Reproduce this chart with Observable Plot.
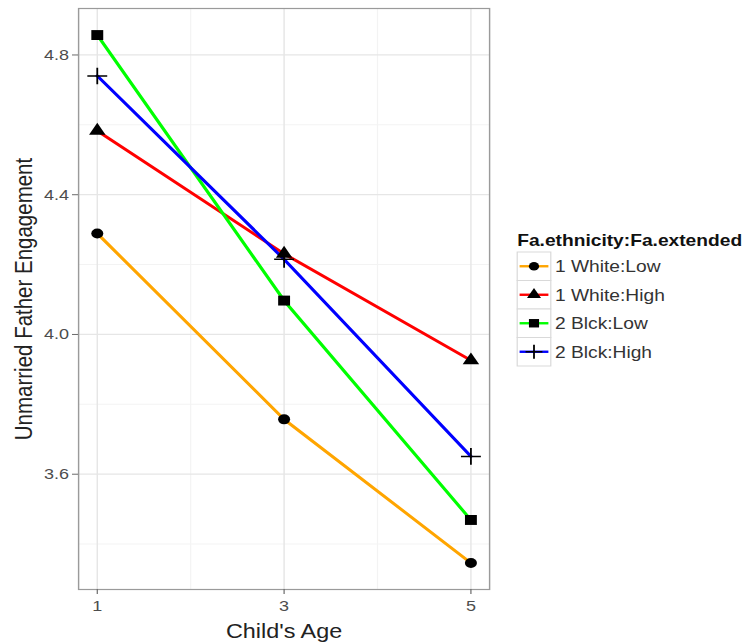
<!DOCTYPE html>
<html>
<head>
<meta charset="utf-8">
<script src="https://cdn.jsdelivr.net/npm/d3@7"></script>
<script src="https://cdn.jsdelivr.net/npm/@observablehq/plot@0.6"></script>
<style>
  body { margin: 0; background: #fff; }
  #wrap { position: relative; width: 625px; height: 642px; transform: scaleX(1.2); transform-origin: 0 0; font-family: "Liberation Sans", Arial, sans-serif; }
  #legend { position: absolute; left: 0; top: 0; }
</style>
</head>
<body>
<div id="wrap"></div>
<script>
// ---- data ----
const ages = [1, 3, 5];
const series = ["1 White:Low", "1 White:High", "2 Blck:Low", "2 Blck:High"];
const whiteLow = [4.289, 3.757, 3.346];
const whiteHigh = [4.583, 4.231, 3.926];
const blckLow = [4.857, 4.097, 3.469];
const blckHigh = [4.740, 4.215, 3.651];
const yTicks = [3.6, 4.0, 4.4, 4.8];
const yMinor = [3.4, 3.8, 4.2, 4.6];
const xMinor = [2, 4];
const colors = ["#FFA500", "#FF0000", "#00FF00", "#0000FF"];
const symbols = ["circle", "triangle", "square", "plus"];
const legendTitle = "Fa.ethnicity:Fa.extended";

const values = [whiteLow, whiteHigh, blckLow, blckHigh];
const rows = [];
series.forEach((s, i) => ages.forEach((a, j) => rows.push({series: s, age: a, value: values[i][j]})));

const symR = {circle: 5, triangle: 5.1, square: 5.6, plus: 5.4};

const dotMarks = series.map((s, i) => {
  const sym = symbols[i];
  const isStroke = sym === "plus";
  return Plot.dot(rows.filter(d => d.series === s), {
    x: "age", y: "value", symbol: () => sym, r: symR[sym],
    fill: isStroke ? "none" : "black",
    stroke: isStroke ? "black" : "none",
    strokeWidth: isStroke ? 1.5 : 0
  });
});

const chart = Plot.plot({
  width: 625, height: 642,
  marginLeft: 65, marginRight: 217.5, marginTop: 8, marginBottom: 53,
  style: {fontFamily: "'Liberation Sans', Arial, sans-serif", background: "#fff"},
  x: {domain: [0.8, 5.2]},
  y: {domain: [3.27, 4.933]},
  color: {domain: series, range: colors},
  symbol: {domain: series, range: symbols},
  marks: [
    Plot.gridX(xMinor, {stroke: "#f3f3f3", strokeOpacity: 1, strokeWidth: 1}),
    Plot.gridY(yMinor, {stroke: "#f3f3f3", strokeOpacity: 1, strokeWidth: 1}),
    Plot.gridX(ages, {stroke: "#e6e6e6", strokeOpacity: 1, strokeWidth: 1.2}),
    Plot.gridY(yTicks, {stroke: "#e6e6e6", strokeOpacity: 1, strokeWidth: 1.2}),
    Plot.line(rows, {x: "age", y: "value", z: "series", stroke: "series", strokeWidth: 2.8}),
    ...dotMarks,
    Plot.frame({stroke: "#9a9a9a", strokeWidth: 1.2}),
    Plot.axisX(ages, {tickSize: 5, tickPadding: 6, fontSize: 15, color: "#4d4d4d", stroke: "#6a6a6a",
      label: "Child's Age", labelAnchor: "center", labelArrow: "none", labelOffset: 48}),
    Plot.axisY(yTicks, {tickSize: 5, tickPadding: 3, fontSize: 15, color: "#4d4d4d", stroke: "#6a6a6a",
      tickFormat: d => d.toFixed(1),
      label: "Unmarried Father Engagement", labelAnchor: "center", labelArrow: "none", labelOffset: 53})
  ]
});
document.getElementById("wrap").appendChild(chart);

// style axis labels
d3.select(chart).selectAll("[aria-label='x-axis label'] text")
  .style("font-size", "19.5px").style("fill", "#222");
d3.select(chart).selectAll("[aria-label='y-axis label'] text")
  .style("font-size", "20.5px").style("fill", "#222");

// ---- legend ----
const lg = d3.select("#wrap").append("svg").attr("id", "legend")
  .attr("width", 625).attr("height", 642)
  .style("font-family", "'Liberation Sans', Arial, sans-serif");
const lx = 431, ly0 = 252, rowH = 28.5, keyW = 28;
lg.append("text").attr("x", lx).attr("y", 246.5).attr("font-weight", "bold").attr("font-size", 16)
  .attr("fill", "#111").text(legendTitle);
series.forEach((s, i) => {
  const y = ly0 + i * rowH;
  const g = lg.append("g");
  g.append("rect").attr("x", lx).attr("y", y).attr("width", keyW).attr("height", rowH)
    .attr("fill", "#fff").attr("stroke", "#d9d9d9").attr("stroke-width", 1);
  g.append("line").attr("x1", lx + 2).attr("x2", lx + keyW - 2).attr("y1", y + rowH / 2).attr("y2", y + rowH / 2)
    .attr("stroke", colors[i]).attr("stroke-width", 2.4);
  const sym = symbols[i];
  const d3sym = {circle: d3.symbolCircle, triangle: d3.symbolTriangle, square: d3.symbolSquare, plus: d3.symbolPlus}[sym];
  const r = symR[sym] * 0.85;
  g.append("path").attr("transform", `translate(${lx + keyW / 2},${y + rowH / 2})`)
    .attr("d", d3.symbol(d3sym, Math.PI * r * r)())
    .attr("fill", sym === "plus" ? "none" : "black")
    .attr("stroke", sym === "plus" ? "black" : "none").attr("stroke-width", 1.5);
  lg.append("text").attr("x", lx + keyW + 3.5).attr("y", y + rowH / 2).attr("dy", "0.36em")
    .attr("font-size", 16).attr("fill", "#333").text(s);
});
</script>
</body>
</html>
